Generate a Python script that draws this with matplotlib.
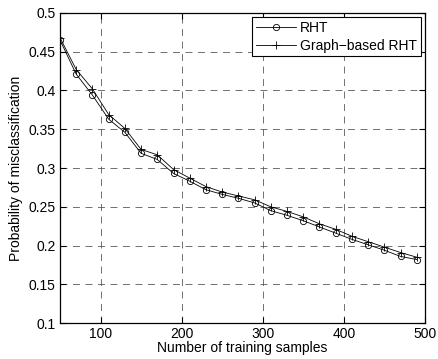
import matplotlib
matplotlib.use("Agg")
from matplotlib import pyplot as plt

# Data
samples = [50, 70, 90, 110, 130, 150, 170, 190, 210, 230, 250, 270,
           290, 310, 330, 350, 370, 390, 410, 430, 450, 470, 490]
rht = [0.465, 0.421, 0.394, 0.363, 0.346, 0.319, 0.311, 0.293, 0.283,
       0.272, 0.266, 0.261, 0.255, 0.245, 0.239, 0.232, 0.224, 0.216,
       0.208, 0.201, 0.194, 0.186, 0.182]
graph_rht = [0.468, 0.427, 0.402, 0.369, 0.351, 0.324, 0.317, 0.298, 0.287,
             0.276, 0.269, 0.264, 0.259, 0.250, 0.244, 0.237, 0.228, 0.221,
             0.212, 0.205, 0.198, 0.191, 0.185]
x_ticks = [100, 200, 300, 400, 500]
y_ticks = [0.1, 0.15, 0.2, 0.25, 0.3, 0.35, 0.4, 0.45, 0.5]
y_tick_labels = ["0.1", "0.15", "0.2", "0.25", "0.3", "0.35", "0.4", "0.45", "0.5"]

plt.rcParams["font.family"] = ["Liberation Sans", "DejaVu Sans"]
plt.rcParams["font.size"] = 10
plt.rcParams["lines.scale_dashes"] = False

fig = plt.figure(figsize=(4.38, 3.59), dpi=100)
ax = fig.add_axes([0.137, 0.100, 0.833, 0.864])

ax.plot(samples, rht, "k-", marker="o", markersize=4.5, markerfacecolor="none",
        markeredgewidth=0.6, linewidth=0.6, label="RHT")
ax.plot(samples, graph_rht, "k-", marker="+", markersize=6,
        markeredgewidth=0.6, linewidth=0.6, label="Graph\u2212based RHT")

# Axis limits
ax.set_xlim(50, 500)
ax.set_ylim(0.1, 0.5)
ax.set_xticks(x_ticks)
ax.set_yticks(y_ticks)
ax.set_yticklabels(y_tick_labels)

ax.grid(True, color="0.35", linestyle=(0, (5, 4)), linewidth=0.6)
ax.tick_params(direction="in", top=True, right=True, length=4, width=0.8,
               labelsize=10, pad=3)
for s in ax.spines.values():
    s.set_linewidth(0.9)

ax.set_xlabel("Number of training samples", labelpad=0)
ax.set_ylabel("Probability of misclassification", labelpad=4)

leg = ax.legend(loc="upper right", bbox_to_anchor=(1, 1), borderaxespad=0.3,
                fancybox=False, framealpha=1, edgecolor="black",
                handlelength=2.9, handletextpad=0.3, labelspacing=0.3,
                borderpad=0.25, fontsize=10)
leg.get_frame().set_linewidth(0.8)

fig.savefig("out.png", dpi=100)
